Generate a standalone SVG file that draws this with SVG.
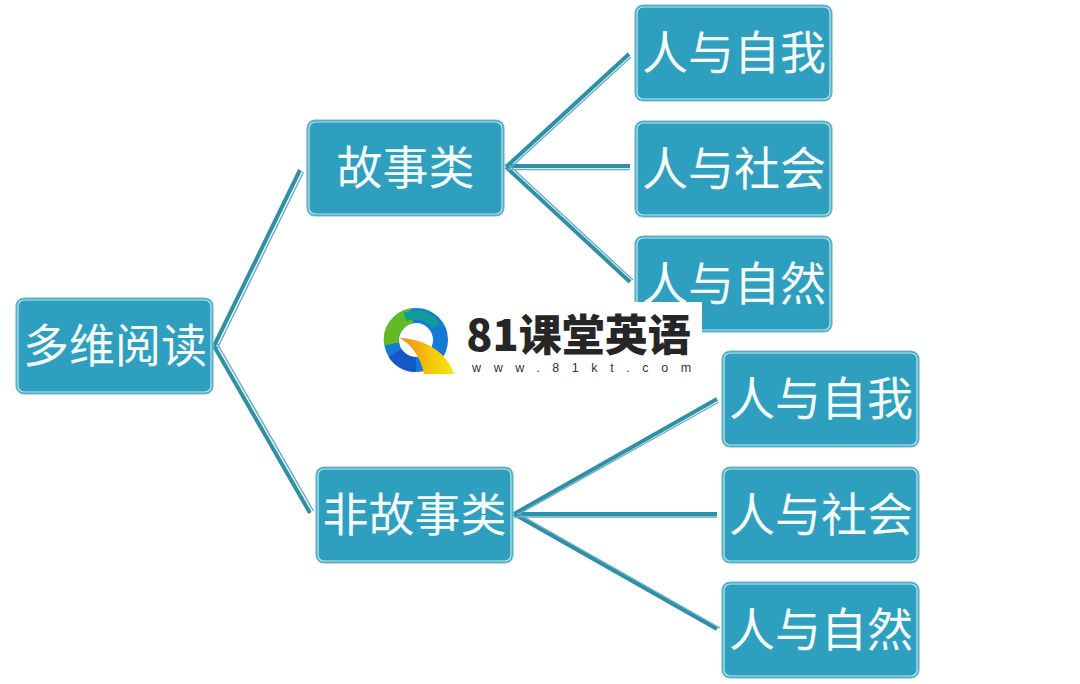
<svg xmlns="http://www.w3.org/2000/svg" width="1080" height="684" viewBox="0 0 1080 684">
<defs>
<style>
.box{fill:#2e9fbf;stroke:#70bdd0;stroke-width:1.2}
.inner{fill:none;stroke:#c9e8ef;stroke-width:1.2}
.t{font-family:"Noto Sans CJK SC","Noto Sans",sans-serif;font-size:46px;fill:#f4fbfd;text-anchor:middle}
.c{fill:none;stroke:#2f8ea8;stroke-width:4}
.c2{fill:none;stroke:#5fb0c4;stroke-width:1.4}
</style>
<linearGradient id="g1" x1="0" y1="0" x2="1" y2="0"><stop offset="0" stop-color="#f08a1c"/><stop offset=".55" stop-color="#f7c40c"/><stop offset="1" stop-color="#f5e60a"/></linearGradient>
</defs>
<rect width="1080" height="684" fill="#ffffff"/>
<g id="connectors">
<path class="c" d="M214 346L300 170M214 346L310 513M506 167L629 54M506 166H630M506 167L630 282M514 514L717 399M514 514H717M514 514L717 629"/>
<path class="c2" d="M217.500 348L303.500 172M217.500 344L313.500 511M509 169L631 57M506 169.500H630M509 165L633 280M517 515L719 402M514 517H717M517 513L720 628"/>
</g>
<g id="n-root"><rect class="box" x="16" y="298" width="197" height="96" rx="8"/><rect class="inner" x="18" y="300" width="193" height="92" rx="6"/><text class="t" x="115" y="362">多维阅读</text></g>
<g id="n-a"><rect class="box" x="307" y="120" width="197" height="96" rx="8"/><rect class="inner" x="309" y="122" width="193" height="92" rx="6"/><text class="t" x="405.500" y="184">故事类</text></g>
<g id="n-b"><rect class="box" x="316" y="467" width="197" height="96" rx="8"/><rect class="inner" x="318" y="469" width="193" height="92" rx="6"/><text class="t" x="414.500" y="531">非故事类</text></g>
<g id="n-a1"><rect class="box" x="635" y="5" width="197" height="96" rx="8"/><rect class="inner" x="637" y="7" width="193" height="92" rx="6"/><text class="t" x="734" y="69">人与自我</text></g>
<g id="n-a2"><rect class="box" x="635" y="121" width="197" height="96" rx="8"/><rect class="inner" x="637" y="123" width="193" height="92" rx="6"/><text class="t" x="734" y="185">人与社会</text></g>
<g id="n-a3"><rect class="box" x="635" y="236" width="197" height="96" rx="8"/><rect class="inner" x="637" y="238" width="193" height="92" rx="6"/><text class="t" x="734" y="300">人与自然</text></g>
<g id="n-b1"><rect class="box" x="722" y="351" width="197" height="96" rx="8"/><rect class="inner" x="724" y="353" width="193" height="92" rx="6"/><text class="t" x="821" y="415">人与自我</text></g>
<g id="n-b2"><rect class="box" x="722" y="467" width="197" height="96" rx="8"/><rect class="inner" x="724" y="469" width="193" height="92" rx="6"/><text class="t" x="821" y="531">人与社会</text></g>
<g id="n-b3"><rect class="box" x="722" y="582" width="197" height="96" rx="8"/><rect class="inner" x="724" y="584" width="193" height="92" rx="6"/><text class="t" x="821" y="646">人与自然</text></g>
<g id="logo">
<rect x="370" y="302" width="332" height="84" fill="#ffffff"/>
<circle cx="416" cy="340" r="24.500" fill="none" stroke="#1579d6" stroke-width="15"/>
<path d="M391.500 344A24.500 24.500 0 0 1 412 316" fill="none" stroke="#62bb25" stroke-width="15"/>
<path d="M405 317A24.500 24.500 0 0 1 436 326" fill="none" stroke="#0f9d9a" stroke-width="9"/>
<path d="M395 353A24.500 24.500 0 0 0 416 364.500" fill="none" stroke="#1458c6" stroke-width="15"/>
<path d="M400 338C425 339 447 352 454 374L424 374C421 358 412 345 400 338Z" fill="url(#g1)"/>
<text x="578.500" y="351" font-family="'Noto Sans CJK SC','DejaVu Sans',sans-serif" font-size="43" font-weight="900" fill="#262626" text-anchor="middle">81课堂英语</text>
<text x="472" y="372" font-family="'Liberation Sans',sans-serif" font-size="12.500" letter-spacing="12.600" fill="#333333">www.81kt.com</text>
</g>
</svg>
